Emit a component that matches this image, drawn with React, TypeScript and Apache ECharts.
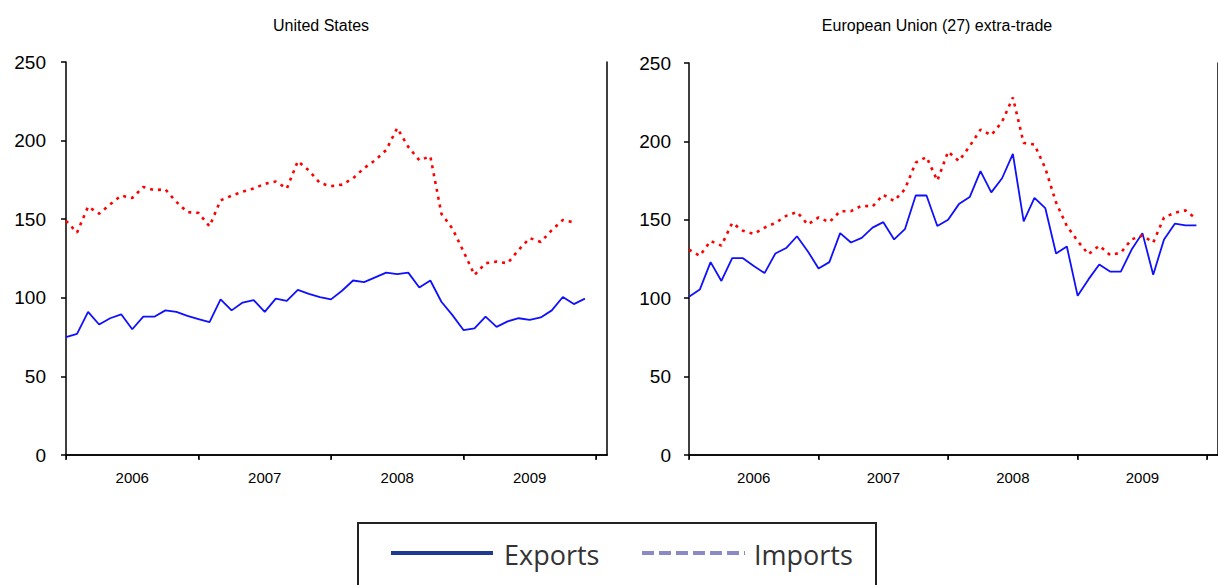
import React, { useEffect, useRef } from "react";
import * as echarts from "echarts";

// ---- data ----
const years = ["2006", "2007", "2008", "2009", "2010"];
const monthNames = ["01", "02", "03", "04", "05", "06", "07", "08", "09", "10", "11", "12"];
const months: string[] = [];
years.forEach((y) => monthNames.forEach((m) => months.push(y + "-" + m)));
const categories = months.slice(0, 50);

const usExports = [
  75, 77, 91, 83, 87, 89.5, 80, 88, 88, 92, 91, 88.5,
  86.5, 84.5, 99, 92, 97, 98.5, 91, 99.5, 98, 105, 102.5, 100.5,
  99, 104.5, 111, 110, 113, 116, 115, 116, 106.5, 111, 97.5, 89,
  79.5, 80.5, 88, 81.5, 85, 87, 86, 87.5, 92, 100.5, 96, 99.5,
];
const usImports = [
  149, 141.5, 158, 153.5, 159.5, 165, 163.5, 170.5, 168.5, 169, 161, 154.5,
  154, 145.5, 162, 165, 167.5, 169.5, 172.5, 174, 169.5, 187, 181, 173,
  171, 172, 176, 182.5, 187.5, 194, 208, 196, 187.5, 190, 153.5, 144,
  129.5, 114.5, 122, 123, 122, 130.5, 138, 135.5, 143, 149.5, 148, null,
];
const euExports = [
  101, 105.5, 123, 111, 125.5, 125.5, 120.5, 116, 128.5, 132, 139.5, 130,
  119, 123, 141.5, 135.5, 138.5, 145, 148.5, 137.5, 144, 165.5, 165.5, 146,
  150, 160, 164.5, 181, 167.5, 176.5, 192, 149, 164, 157.5, 128.5, 133,
  101.5, 112, 121.5, 117, 117, 131, 141.5, 115, 137.5, 147.5, 146.5, 146.5,
];
const euImports = [
  131, 127, 136.5, 133.5, 148, 143, 141, 145, 148, 152.5, 155, 147,
  151.5, 148.5, 155.5, 155.5, 159, 158.5, 166, 162, 169.5, 186.5, 190, 175,
  193.5, 187.5, 197, 207.5, 204, 212.5, 228, 199, 198, 183, 161, 146,
  136.5, 128, 133.5, 127.5, 129, 137.5, 140, 135.5, 151.5, 154.5, 156, 150.5,
];
const chartTitles = ["United States", "European Union (27) extra-trade"];
const legendLabels = ["Exports", "Imports"];

const AXIS_FONT = "'Liberation Sans', Arial, sans-serif";

function makeAxes(gridIndex: number, yLabelMargin: number) {
  const xBottom = {
    type: "category",
    gridIndex,
    data: categories,
    boundaryGap: false,
    position: "bottom",
    axisLine: { show: true, lineStyle: { color: "#000", width: 1.5 } },
    axisTick: {
      show: true,
      length: 5,
      interval: (i: number) => i % 12 === 0,
      lineStyle: { color: "#000", width: 1.5 },
    },
    axisLabel: {
      interval: (i: number) => i % 12 === 6,
      formatter: (v: string) => v.slice(0, 4),
      color: "#000",
      fontSize: 15,
      fontFamily: AXIS_FONT,
      margin: 15,
    },
    splitLine: { show: false },
  };
  const xTop = {
    type: "category",
    gridIndex,
    data: categories,
    boundaryGap: false,
    position: "top",
    axisLine: { show: true, lineStyle: { color: "#000", width: 1.5 } },
    axisTick: {
      show: true,
      inside: true,
      length: 4,
      interval: (i: number) => i % 12 === 0,
      lineStyle: { color: "#000", width: 1 },
    },
    axisLabel: { show: false },
    splitLine: { show: false },
  };
  const yLeft = {
    type: "value",
    gridIndex,
    min: 0,
    max: 250,
    interval: 50,
    position: "left",
    axisLine: { show: true, lineStyle: { color: "#000", width: 1.5 } },
    axisTick: { show: true, length: 5, lineStyle: { color: "#000", width: 1.5 } },
    axisLabel: { color: "#000", fontSize: 19, fontFamily: AXIS_FONT, margin: yLabelMargin },
    splitLine: { show: false },
  };
  const yRight = {
    type: "value",
    gridIndex,
    min: 0,
    max: 250,
    interval: 50,
    position: "right",
    axisLine: { show: true, lineStyle: { color: "#000", width: 1.5 } },
    axisTick: { show: false },
    axisLabel: { show: false },
    splitLine: { show: false },
  };
  return { xBottom, xTop, yLeft, yRight };
}

function lineSeries(name: string, data: (number | null)[], axis: number, exports: boolean) {
  return {
    name,
    type: "line",
    xAxisIndex: axis,
    yAxisIndex: axis,
    data,
    showSymbol: false,
    symbol: "none",
    connectNulls: false,
    lineStyle: exports
      ? { color: "#1010ff", width: 1.8, type: "solid" }
      : { color: "#ff0000", width: 2.6, type: [3, 5] },
    itemStyle: { color: exports ? "#1010ff" : "#ff0000" },
    z: exports ? 3 : 4,
  };
}

export default function App() {
  const ref = useRef<HTMLDivElement>(null);
  useEffect(() => {
    if (!ref.current) return;
    const chart = echarts.init(ref.current, undefined, { renderer: "svg" });
    const a = makeAxes(0, 20);
    const b = makeAxes(1, 18);
    const option = {
      animation: false,
      backgroundColor: "#ffffff",
      grid: [
        { left: 66, top: 62, width: 541, height: 393 },
        { left: 689, top: 63, width: 542, height: 392 },
      ],
      xAxis: [a.xBottom, b.xBottom, a.xTop, b.xTop],
      yAxis: [a.yLeft, b.yLeft, a.yRight, b.yRight],
      series: [
        lineSeries(legendLabels[0], usExports, 0, true),
        lineSeries(legendLabels[1], usImports, 0, false),
        lineSeries(legendLabels[0], euExports, 1, true),
        lineSeries(legendLabels[1], euImports, 1, false),
      ],
      graphic: [
        {
          type: "text",
          x: 321,
          y: 25,
          style: {
            text: chartTitles[0],
            fill: "#000",
            font: "16px 'Liberation Sans', Arial, sans-serif",
            textAlign: "center",
            textVerticalAlign: "middle",
          },
        },
        {
          type: "text",
          x: 937,
          y: 25,
          style: {
            text: chartTitles[1],
            fill: "#000",
            font: "16px 'Liberation Sans', Arial, sans-serif",
            textAlign: "center",
            textVerticalAlign: "middle",
          },
        },
        {
          type: "rect",
          shape: { x: 358, y: 523, width: 518, height: 80 },
          style: { fill: "#fff", stroke: "#222", lineWidth: 2 },
          z: 10,
        },
        {
          type: "line",
          shape: { x1: 391, y1: 553, x2: 493, y2: 553 },
          style: { stroke: "#1f3a93", lineWidth: 4 },
          z: 11,
        },
        {
          type: "text",
          x: 504,
          y: 554,
          style: {
            text: legendLabels[0],
            fill: "#333",
            font: "27px 'Open Sans', 'Noto Sans', sans-serif",
            textAlign: "left",
            textVerticalAlign: "middle",
          },
          z: 11,
        },
        {
          type: "line",
          shape: { x1: 642, y1: 553, x2: 745, y2: 553 },
          style: { stroke: "#8c8ac6", lineWidth: 4, lineDash: [12, 5] },
          z: 11,
        },
        {
          type: "text",
          x: 754,
          y: 554,
          style: {
            text: legendLabels[1],
            fill: "#333",
            font: "27px 'Open Sans', 'Noto Sans', sans-serif",
            textAlign: "left",
            textVerticalAlign: "middle",
          },
          z: 11,
        },
      ],
    };
    chart.setOption(option as any);
    return () => chart.dispose();
  }, []);
  return (
    <div
      ref={ref}
      style={{ position: "fixed", left: 0, top: 0, width: 1218, height: 585, background: "#fff" }}
    />
  );
}
